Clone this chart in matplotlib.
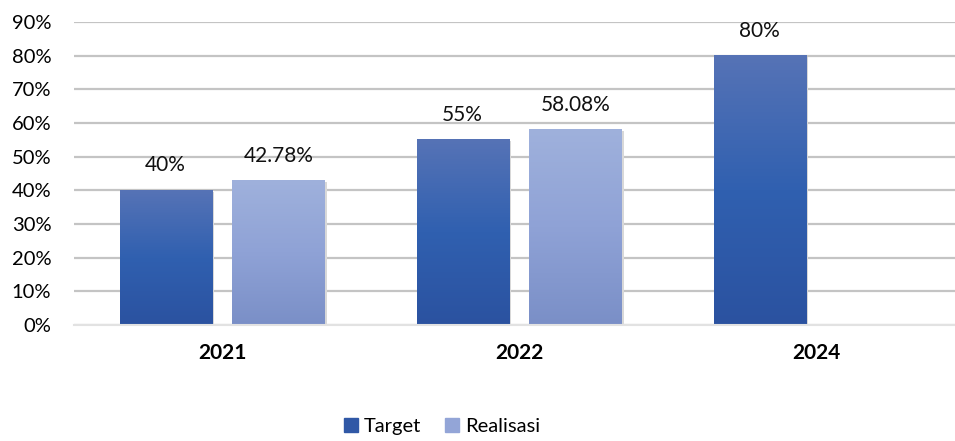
import matplotlib.pyplot as plt
import numpy as np
from matplotlib.colors import LinearSegmentedColormap
from matplotlib.lines import Line2D
from matplotlib.ticker import FuncFormatter

plt.rcParams['font.family'] = ['Lato', 'DejaVu Sans']

years = ['2021', '2022', '2024']
target = [0.40, 0.55, 0.80]
realisasi = [0.4278, 0.5808, np.nan]
target_labels = ['40%', '55%', '80%']
realisasi_labels = ['42.78%', '58.08%', '']

# gradient bottom -> top
target_cmap = LinearSegmentedColormap.from_list('t', ['#2b52a0', '#3060b0', '#5673b6'])
real_cmap = LinearSegmentedColormap.from_list('r', ['#7a8fc7', '#8fa2d6', '#9fb1dc'])

fig = plt.figure(figsize=(9.55, 4.41), dpi=100)
ax = fig.add_axes([0.077, 0.263, 0.933, 0.687])

x = np.arange(len(years))
w = 0.31
b1 = ax.bar(x - 0.19, target, w, color='none', zorder=3)
b2 = ax.bar(x + 0.19, realisasi, w, color='none', zorder=3)

grad = np.linspace(0, 1, 256).reshape(-1, 1)
for bars, cmap in ((b1, target_cmap), (b2, real_cmap)):
    for rect in bars:
        h = rect.get_height()
        if not np.isfinite(h):
            continue
        x0 = rect.get_x()
        x1 = x0 + rect.get_width()
        # soft shadow
        ax.fill_between([x0 + 0.008, x1 + 0.008], -0.004, h - 0.004, color='#d8d8d8', zorder=2, lw=0)
        ax.imshow(grad, cmap=cmap, origin='lower', extent=[x0, x1, 0, h],
                  aspect='auto', zorder=3)

for bars, labels in ((b1, target_labels), (b2, realisasi_labels)):
    for rect, lab in zip(bars, labels):
        h = rect.get_height()
        if not np.isfinite(h):
            continue
        ax.annotate(lab, (rect.get_x() + rect.get_width() / 2, h), xytext=(0, 18),
                    textcoords='offset points', ha='center', va='center', fontsize=15, color='#111111')

ax.set_xlim(-0.5, 2.5)
ax.set_ylim(0, 0.9)
ax.set_yticks(np.arange(0, 0.91, 0.1))
ax.yaxis.set_major_formatter(FuncFormatter(lambda v, p: '%d%%' % round(v * 100)))
ax.set_xticks(x)
ax.set_xticklabels(years, fontsize=15, fontweight='bold')
ax.tick_params(axis='y', length=0, labelsize=14.5, pad=16)
ax.tick_params(axis='x', length=0, pad=13)
ax.grid(axis='y', color='#c4c4c4', linewidth=1.6, zorder=0)
ax.set_axisbelow(True)
for s in ['top', 'right', 'left']:
    ax.spines[s].set_visible(False)
ax.spines['bottom'].set_color('#e2e2e2')
ax.spines['bottom'].set_linewidth(1.5)
ax.spines['bottom'].set_zorder(4)

handles = [Line2D([], [], marker='s', ls='none', markersize=10, color='#3058a6'),
           Line2D([], [], marker='s', ls='none', markersize=10, color='#93a5d7')]
fig.legend(handles, ['Target', 'Realisasi'], loc='center', bbox_to_anchor=(0.463, 0.032),
           ncol=2, frameon=False, fontsize=14.5, handlelength=0.7, handletextpad=0.3,
           columnspacing=1.2)

fig.savefig('out.png', dpi=100)
